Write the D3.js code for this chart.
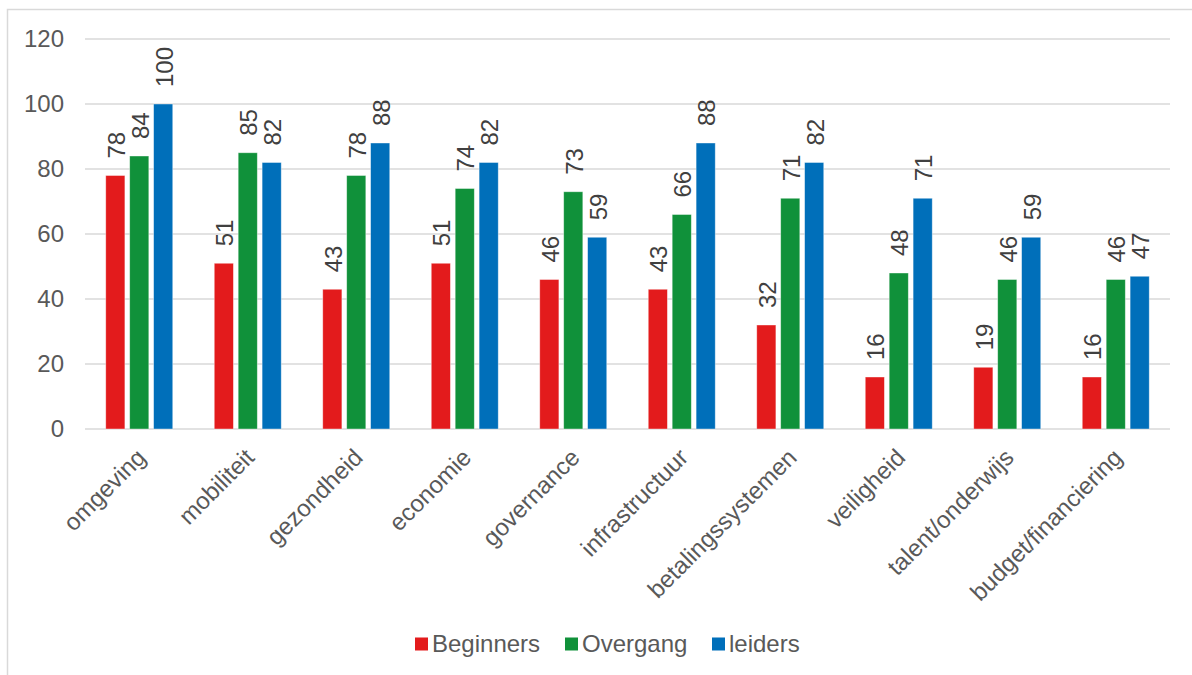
<!DOCTYPE html>
<html>
<head>
<meta charset="utf-8">
<script src="https://cdn.jsdelivr.net/npm/d3@7"></script>
<style>
  body { margin: 0; background: #fff; }
  text { font-family: "Liberation Sans", Arial, sans-serif; }
</style>
</head>
<body>
<script>
// chart data
const categories = ["omgeving", "mobiliteit", "gezondheid", "economie", "governance",
  "infrastructuur", "betalingssystemen", "veiligheid", "talent/onderwijs", "budget/financiering"];
const seriesNames = ["Beginners", "Overgang", "leiders"];
const beginners = [78, 51, 43, 51, 46, 43, 32, 16, 19, 16];
const overgang = [84, 85, 78, 74, 73, 66, 71, 48, 46, 46];
const leiders = [100, 82, 88, 82, 59, 88, 82, 71, 59, 47];
const yTicks = [0, 20, 40, 60, 80, 100, 120];
const colors = ["#E31B1C", "#10913A", "#006FBA"];

const width = 1192;
const height = 675;
const margin = {left: 85, right: 22, top: 39, bottom: 246};
const fontSize = 24;

const svg = d3.select('body')
  .append('svg')
  .attr('width', width)
  .attr('height', height);

// outer chart border
svg.append('rect')
  .attr('x', 7.5).attr('y', 9.5)
  .attr('width', width + 20).attr('height', height + 20)
  .attr('fill', 'none')
  .attr('stroke', '#d9d9d9')
  .attr('stroke-width', 1.5);

const x = d3.scaleBand()
  .domain(categories)
  .range([margin.left, width - margin.right]);

const y = d3.scaleLinear()
  .domain([0, 120])
  .range([height - margin.bottom, margin.top]);

const x1 = d3.scaleBand()
  .domain(seriesNames)
  .range([0, 67])
  .paddingInner(0.2);

// gridlines
svg.append('g')
  .selectAll('line')
  .data(yTicks)
  .join('line')
  .attr('x1', margin.left)
  .attr('x2', width - margin.right)
  .attr('y1', (d) => y(d))
  .attr('y2', (d) => y(d))
  .attr('stroke', '#d9d9d9')
  .attr('stroke-width', 1.5);

// y tick labels
svg.append('g')
  .selectAll('text')
  .data(yTicks)
  .join('text')
  .attr('x', 64)
  .attr('y', (d) => y(d))
  .attr('dy', '0.35em')
  .attr('text-anchor', 'end')
  .attr('font-size', fontSize)
  .attr('fill', '#595959')
  .text((d) => d);

const rows = categories.map((c, i) => ({
  cat: c,
  vals: [beginners[i], overgang[i], leiders[i]]
}));

const groupOffset = (x.bandwidth() - 67) / 2;

const groups = svg.append('g')
  .selectAll('g')
  .data(rows)
  .join('g')
  .attr('transform', (d) => `translate(${x(d.cat) + groupOffset},0)`);

const cells = groups.selectAll('g')
  .data((d) => d.vals.map((v, j) => ({name: seriesNames[j], value: v, j: j})))
  .join('g');

cells.append('rect')
  .attr('x', (d) => x1(d.name))
  .attr('y', (d) => y(d.value))
  .attr('width', x1.bandwidth())
  .attr('height', (d) => y(0) - y(d.value))
  .attr('fill', (d) => colors[d.j])
  .attr('stroke', '#ffffff')
  .attr('stroke-opacity', 0.5)
  .attr('stroke-width', 0.8);

// value labels, rotated
cells.append('text')
  .attr('transform', (d) => `translate(${x1(d.name) + x1.bandwidth() / 2 + 1},${y(d.value) - 17}) rotate(-90)`)
  .attr('dy', '0.35em')
  .attr('text-anchor', 'start')
  .attr('font-size', fontSize)
  .attr('fill', '#404040')
  .text((d) => d.value);

// category labels
svg.append('g')
  .selectAll('text')
  .data(categories)
  .join('text')
  .attr('transform', (d) => `translate(${x(d) + x.bandwidth() / 2 + 2},${y(0) + 24}) rotate(-45)`)
  .attr('dy', '0.35em')
  .attr('text-anchor', 'end')
  .attr('font-size', fontSize)
  .attr('fill', '#595959')
  .text((d) => d);

// legend
const legendX = [415, 565, 712];
const legend = svg.append('g')
  .selectAll('g')
  .data(seriesNames)
  .join('g')
  .attr('transform', (d, i) => `translate(${legendX[i]},644)`);

legend.append('rect')
  .attr('x', 0).attr('y', -6.5)
  .attr('width', 13).attr('height', 13)
  .attr('fill', (d, i) => colors[i]);

legend.append('text')
  .attr('x', 17)
  .attr('dy', '0.35em')
  .attr('font-size', fontSize)
  .attr('fill', '#595959')
  .text((d) => d);
</script>
</body>
</html>
